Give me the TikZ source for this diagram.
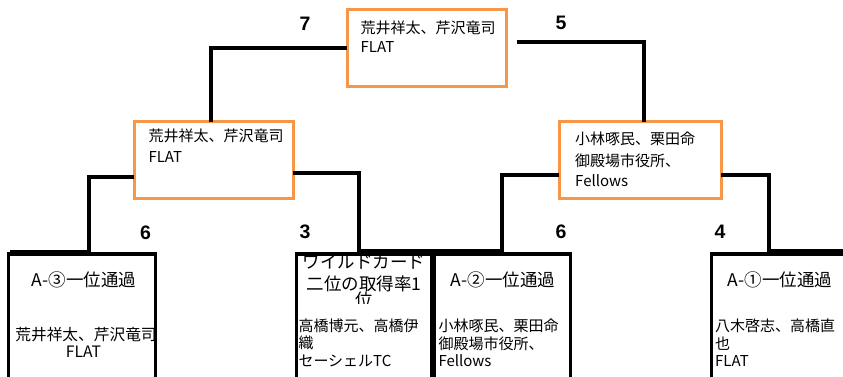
\documentclass[tikz,border=0pt]{standalone}
\usepackage{fontspec}
\newfontfamily\jp{Noto Sans CJK JP}
\newfontfamily\num{Liberation Sans}
\usetikzlibrary{calc}
\definecolor{boxorange}{RGB}{247,150,70}
\begin{document}
\begin{tikzpicture}[x=1pt,y=-1pt,
  winbox/.style={draw=boxorange,line width=3pt,fill=white,inner sep=0pt,outer sep=0pt},
  entrybox/.style={draw=black,line width=3.5pt,fill=white,inner sep=0pt,outer sep=0pt},
  link/.style={draw=black,line width=4pt},
  score/.style={font=\num\bfseries\fontsize{19.5}{20}\selectfont,anchor=base,inner sep=0pt},
  txt/.style={font=\jp\fontsize{15}{17}\selectfont,inner sep=0pt},
  headtxt/.style={font=\jp\fontsize{17.5}{19}\selectfont,inner sep=0pt,anchor=base},
  bigtxt/.style={font=\jp\fontsize{17.5}{19}\selectfont,inner sep=0pt,anchor=base}]
\useasboundingbox (0,0) rectangle (843,377);
\clip (0,0) rectangle (843,377);
\fill[white] (0,0) rectangle (843,377);

% boxes
\node[winbox,minimum width=159pt,minimum height=77pt] (top) at (426.5,48.5) {};
\node[winbox,minimum width=159pt,minimum height=76pt] (ml) at (213.5,160) {};
\node[winbox,minimum width=162pt,minimum height=76pt] (mr) at (640,160) {};
\node[entrybox,minimum width=147pt,minimum height=166pt] (b1) at (82,337) {};
\node[entrybox,minimum width=135pt,minimum height=166pt] (b2) at (364,337) {};
\node[entrybox,minimum width=136pt,minimum height=166pt] (b3) at (502.5,337) {};
\node[entrybox,minimum width=137pt,minimum height=166pt] (b4) at (780,337) {};

% connectors
\coordinate (t5) at (516.5,42.3);
\draw[link] (top.west |- 0,48.3) -| ([xshift=-2.5pt]ml.north);
\draw[link] (t5) -| ([xshift=4pt]mr.north);

\coordinate (j1) at (89,252);
\draw[link] ($(ml.west)+(0,17)$) -| (j1) -- (j1 -| 10,0);
\coordinate (j2) at (359,251);
\draw[link] ($(ml.east)+(0,12.7)$) -| (j2) -- (j2 -| b2.east);
\coordinate (j3) at (502,251);
\draw[link] ($(mr.west)+(0,15)$) -| (j3) -- (j3 -| b2.east);
\coordinate (j4) at (769,251);
\draw[link] ($(mr.east)+(0,15)$) -| (j4) -- (j4 -| 843,0);

% scores
\node[score] (s7) at (305,30.5) {7};
\node[score] (s5) at (561,30) {5};
\node[score] (s6a) at (145.5,239) {6};
\node[score] (s3) at (305,238) {3};
\node[score] (s6b) at (561,238) {6};
\node[score] (s4) at (720,238) {4};

% top box text
\node[txt,anchor=base west] (tt1) at (360.5,33.8) {荒井祥太、芹沢竜司};
\node[txt,anchor=base west] (tt2) at (360.5,52.2) {FLAT};
% mid left
\node[txt,anchor=base west] (ml1) at (148.3,141.5) {荒井祥太、芹沢竜司};
\node[txt,anchor=base west] (ml2) at (148.3,162.2) {FLAT};
% mid right
\node[txt,anchor=base west] (mr1) at (575,145) {小林啄民、栗田命};
\node[txt,anchor=base west] (mr2) at (575,166) {御殿場市役所、};
\node[txt,anchor=base west] (mr3) at (575,186.3) {Fellows};

% b1
\node[headtxt] (b1h) at (84,286.5) {A-③一位通過};
\node[txt,anchor=base,font=\jp\fontsize{15.7}{17}\selectfont] (b1a) at (86,340.5) {荒井祥太、芹沢竜司};
\node[txt,anchor=base,font=\jp\fontsize{15.7}{17}\selectfont] (b1b) at (83.5,357.5) {FLAT};

% b2
\begin{scope}
\clip (297,256.5) rectangle (431,303.5);
\node[bigtxt] (b2h1) at (364,268) {ワイルドカード};
\node[bigtxt] (b2h2) at (364,290.4) {二位の取得率1};
\node[bigtxt] (b2h3) at (364,306.4) {位};
\end{scope}
\node[txt,anchor=base west] (b2a) at (298.3,331.5) {高橋博元、高橋伊};
\node[txt,anchor=base west] (b2b) at (298.3,348) {織};
\node[txt,anchor=base west] (b2c) at (298.3,366.5) {セーシェルTC};

% b3
\node[headtxt] (b3h) at (503,286.5) {A-②一位通過};
\node[txt,anchor=base west] (b3a) at (438.3,331.5) {小林啄民、栗田命};
\node[txt,anchor=base west] (b3b) at (438.3,349.5) {御殿場市役所、};
\node[txt,anchor=base west] (b3c) at (438.3,366.5) {Fellows};

% b4
\node[headtxt] (b4h) at (780,286.5) {A-①一位通過};
\node[txt,anchor=base west] (b4a) at (715,331.5) {八木啓志、高橋直};
\node[txt,anchor=base west] (b4b) at (715,349.5) {也};
\node[txt,anchor=base west] (b4c) at (715,366.5) {FLAT};
\end{tikzpicture}
\end{document}
